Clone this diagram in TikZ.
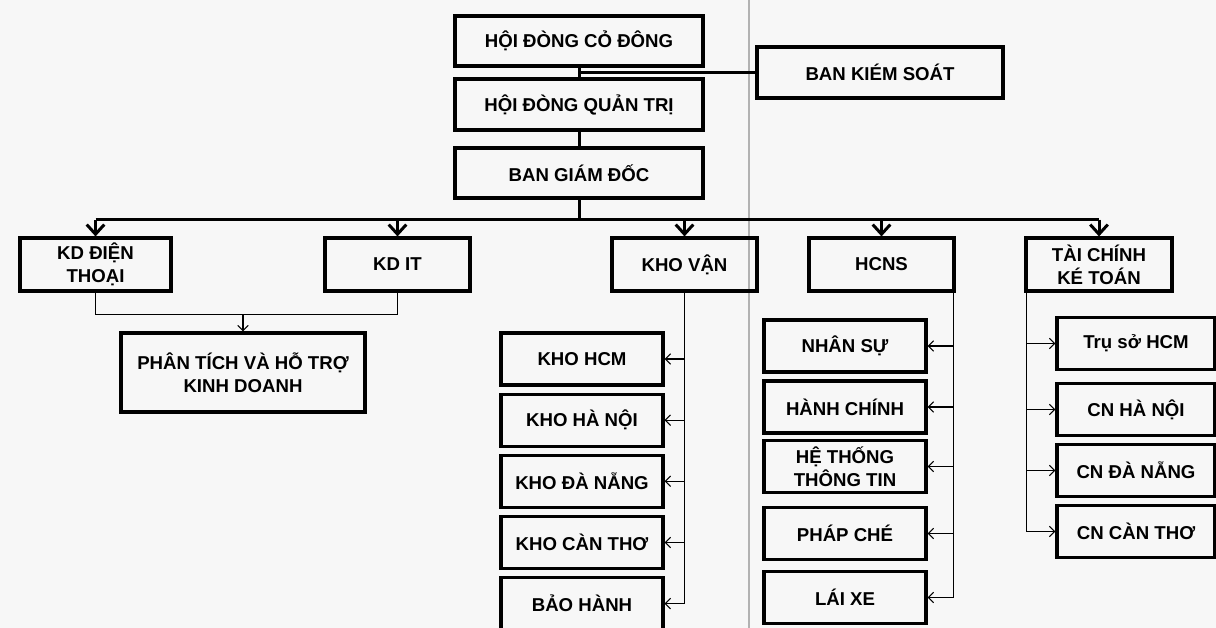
\documentclass[tikz,border=0pt]{standalone}
\usepackage{fontspec}
\setmainfont{Liberation Sans}
\usetikzlibrary{arrows.meta,positioning}
\definecolor{paper}{RGB}{247,247,247}

\begin{document}
\begin{tikzpicture}[x=0.02cm,y=-0.02cm,
    box/.style={draw, line width=1.8pt, align=center, inner sep=0pt,
      font=\bfseries\fontsize{10.6}{13}\selectfont},
    wide/.style={box, minimum width=4.96cm, minimum height=1cm},
    dept/.style={box, minimum width=2.9cm, minimum height=1.06cm},
    unit/.style={box, minimum width=3.24cm, minimum height=1.04cm},
    main/.style={line width=1.7pt},
    down/.style={main, -{Straight Barb[length=5.5pt,width=10pt]}},
    thin/.style={line width=0.6pt},
    tip/.style={thin, -{Straight Barb[length=3pt,width=6pt]}}]

    \useasboundingbox (0,0) rectangle (1216,628);
    \fill[paper] (0,0) rectangle (1216,628);
    \draw[black!30, line width=0.8pt] (749,0) -- (749,628);

    % top of the chart
    \node[wide] (hdcd) at (579,41) {HỘI ĐÒNG CỎ ĐÔNG};
    \node[wide, minimum height=1.02cm] (hdqt) at (579,104.5) {HỘI ĐÒNG QUẢN TRỊ};
    \node[wide] (bgd) at (579,173) {BAN GIÁM ĐỐC};
    \node[wide, minimum width=4.92cm, minimum height=1.02cm] (bks) at (880,72.5) {BAN KIÉM SOÁT};

    % departments
    \node[dept, minimum width=3.02cm] (kddt) at (95.5,264.5) {KD ĐIỆN\\THOẠI};
    \node[dept] (kdit) at (397.5,264.5) {KD IT};
    \node[dept] (kv) at (684.5,264.5) {KHO VẬN};
    \node[dept] (hcns) at (881.5,264.5) {HCNS};
    \node[dept, minimum width=2.92cm] (tckt) at (1099,264.5) {TÀI CHÍNH\\KÉ TOÁN};

    \node[box, minimum width=4.88cm, minimum height=1.58cm] (ptht) at (243,372.5) {PHÂN TÍCH VÀ HỖ TRỢ\\KINH DOANH};

    % kho van
    \node[unit] (kv1) at (582,359) {KHO HCM};
    \node[unit, below=0.12cm of kv1] (kv2) {KHO HÀ NỘI};
    \node[unit, below=0.12cm of kv2] (kv3) {KHO ĐÀ NẴNG};
    \node[unit, below=0.12cm of kv3] (kv4) {KHO CÀN THƠ};
    \node[unit, below=0.12cm of kv4] (kv5) {BẢO HÀNH};

    % hcns
    \node[unit] (ns1) at (845,346) {NHÂN SỰ};
    \node[unit] (ns2) at (845,407) {HÀNH CHÍNH};
    \node[unit] (ns3) at (845,466.5) {HỆ THỐNG\\THÔNG TIN};
    \node[unit] (ns4) at (845,533.5) {PHÁP CHÉ};
    \node[unit] (ns5) at (845,597.5) {LÁI XE};

    % tai chinh
    \node[unit, minimum width=3.16cm] (tc1) at (1136,343.5) {Trụ sở HCM};
    \node[unit, minimum width=3.16cm] (tc2) at (1136,409.5) {CN HÀ NỘI};
    \node[unit, minimum width=3.16cm] (tc3) at (1136,470.5) {CN ĐÀ NẴNG};
    \node[unit, minimum width=3.16cm] (tc4) at (1136,531.5) {CN CÀN THƠ};

    \draw[main] (hdcd) -- (hdqt);
    \draw[main] (hdqt) -- (bgd);
    \draw[main] (bks.west) -- (bks.west -| hdcd.south);
    \draw[main] (bgd.south) -- ++(0,20) coordinate (bus);
    \draw[main] (bus -| kddt.north) -- (bus -| tckt.north);
    \foreach \d in {kddt,kdit,kv,hcns,tckt}
        \draw[down] (bus -| \d.north) -- (\d.north);

    \draw[thin] (kddt.south) -- ++(0,22) coordinate (kdj) -| (kdit.south);
    \draw[tip] (kdj -| ptht.north) -- (ptht.north);

    \draw[thin] (kv.south) -- (kv.south |- kv5.east);
    \foreach \u in {kv1,kv2,kv3,kv4,kv5}
        \draw[tip] (kv.south |- \u.east) -- (\u.east);

    \coordinate (hx) at ([xshift=-1pt]hcns.south east);
    \draw[thin] (hx) -- (hx |- ns5.east);
    \foreach \u in {ns1,ns2,ns3,ns4,ns5}
        \draw[tip] (hx |- \u.east) -- (\u.east);

    \coordinate (tx) at ([xshift=1pt]tckt.south west);
    \draw[thin] (tx) -- (tx |- tc4.west);
    \foreach \u in {tc1,tc2,tc3,tc4}
        \draw[tip] (tx |- \u.west) -- (\u.west);
\end{tikzpicture}
\end{document}
